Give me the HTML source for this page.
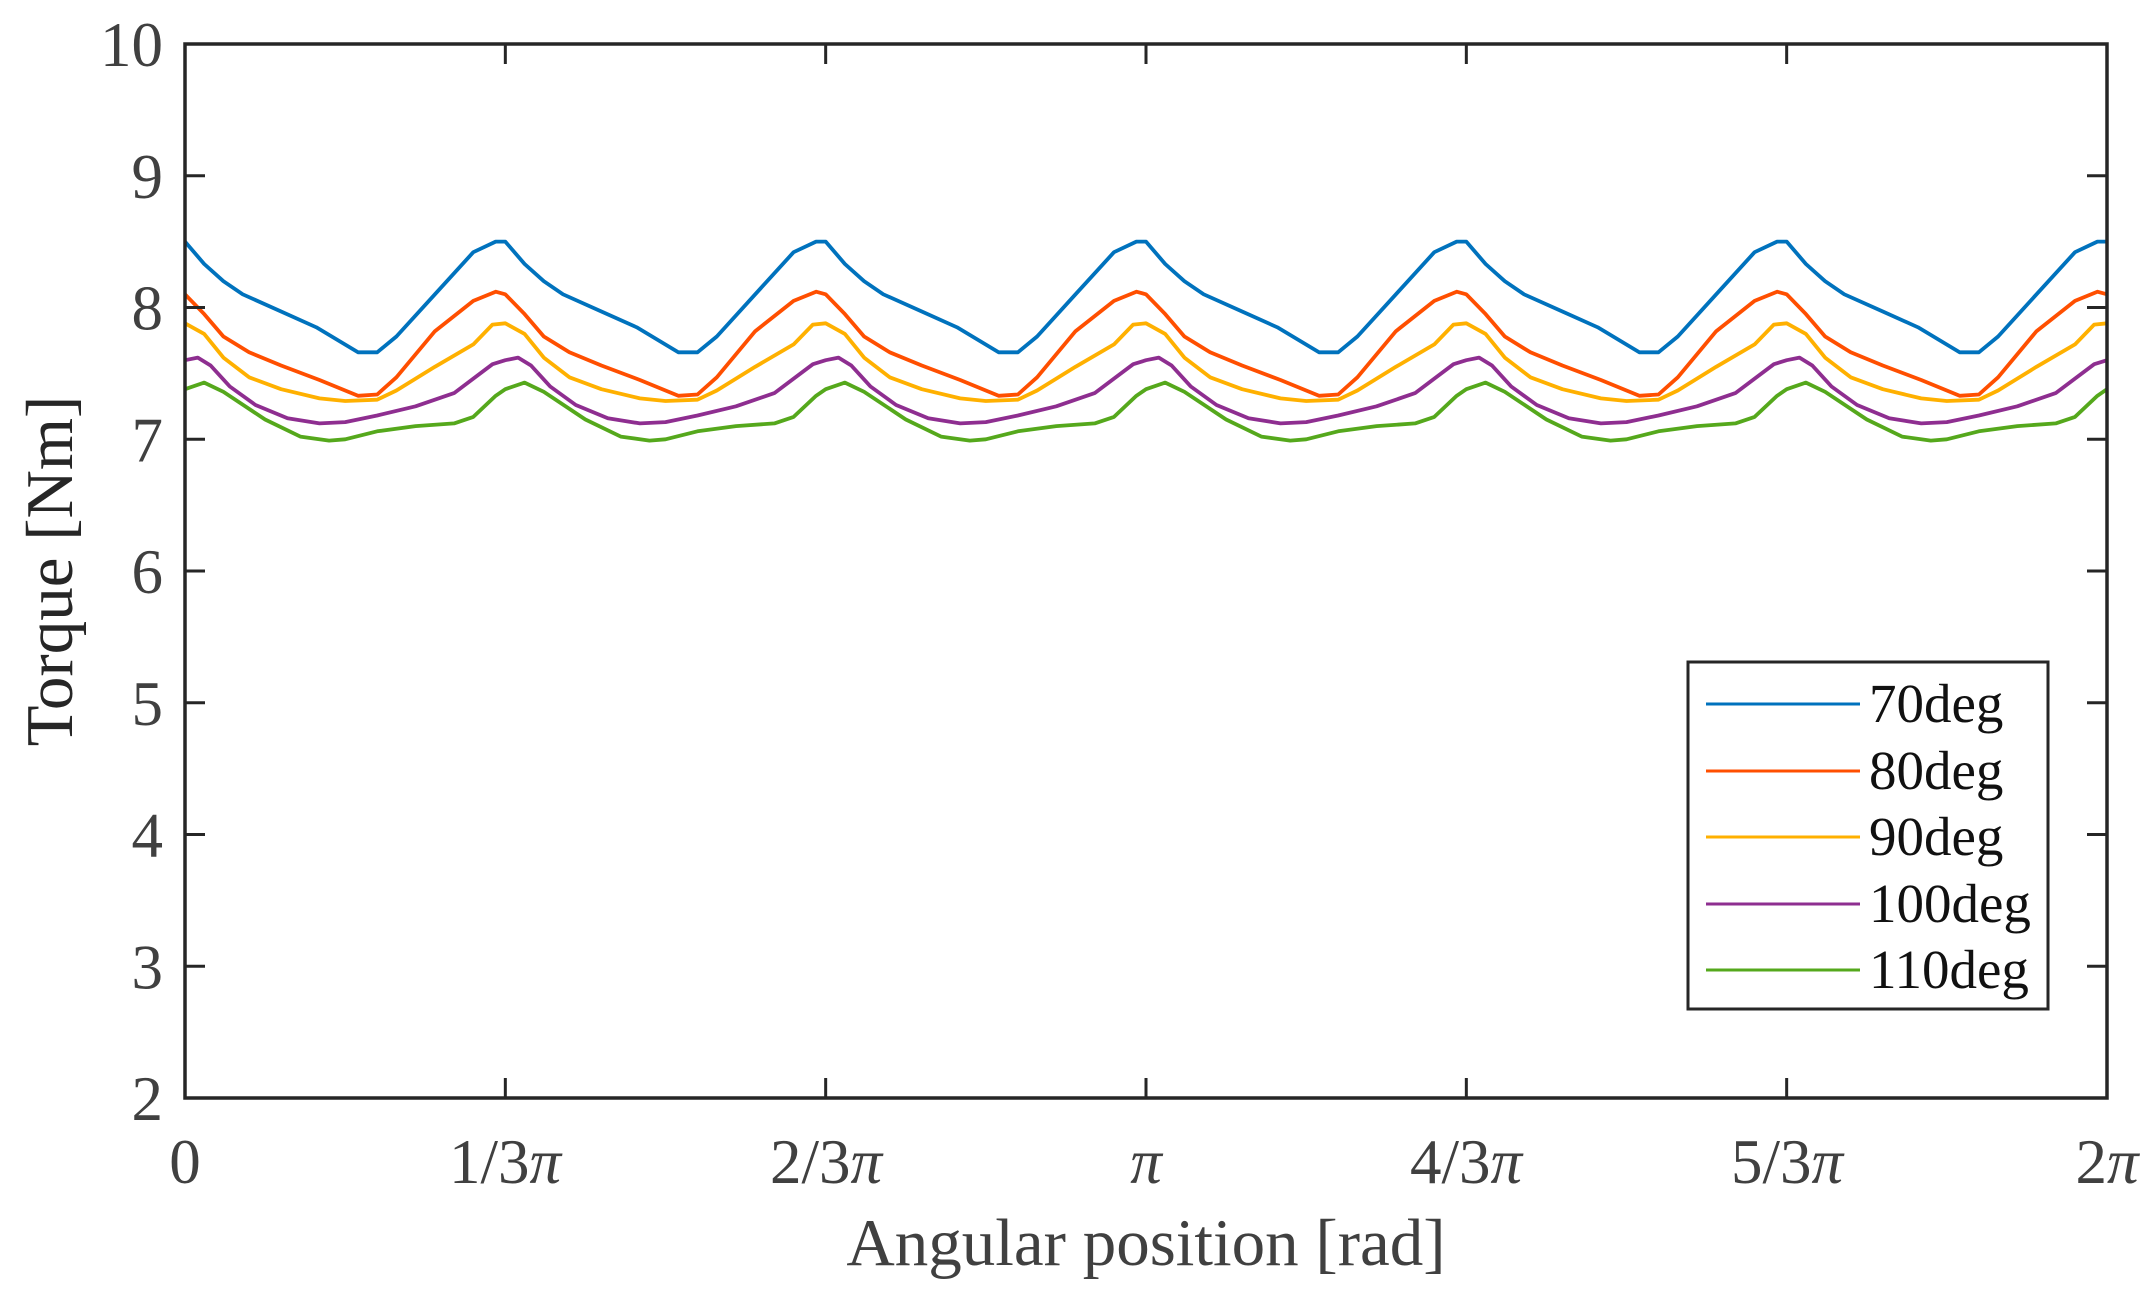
<!DOCTYPE html>
<html><head><meta charset="utf-8"><style>
html,body{margin:0;padding:0;background:#fff;}
svg{display:block;}
text{font-family:"Liberation Serif",serif;}
</style></head><body>
<svg id="s" width="2152" height="1303" viewBox="0 0 2152 1303" xmlns="http://www.w3.org/2000/svg">
<g id="series" fill="none" stroke-width="3.8" stroke-linejoin="round"></g>
<rect x="185" y="44" width="1922" height="1054" fill="none" stroke="#262626" stroke-width="3.5"/>
<g id="ticks" stroke="#262626" stroke-width="3"></g>
<g fill="#404040" font-size="63" text-anchor="middle">
<text x="185" y="1183">0</text>
<text x="505" y="1183">1/3<tspan font-style="italic">π</tspan></text>
<text x="826" y="1183">2/3<tspan font-style="italic">π</tspan></text>
<text x="1146" y="1183" font-style="italic">π</text>
<text x="1466" y="1183">4/3<tspan font-style="italic">π</tspan></text>
<text x="1787" y="1183">5/3<tspan font-style="italic">π</tspan></text>
<text x="2107" y="1183">2<tspan font-style="italic">π</tspan></text>
</g>
<g id="ylab" fill="#404040" font-size="63" text-anchor="end"></g>
<text x="1146" y="1265" font-size="67" fill="#404040" text-anchor="middle">Angular position [rad]</text>
<text transform="translate(72,571) rotate(-90)" font-size="67" fill="#262626" text-anchor="middle">Torque [Nm]</text>
<rect x="1688" y="662" width="360" height="347" fill="#fff" stroke="#262626" stroke-width="3"/>
<g stroke-width="3">
<line x1="1706" x2="1860" y1="704" y2="704" stroke="#0072BD"/>
<line x1="1706" x2="1860" y1="771" y2="771" stroke="#FF4F00"/>
<line x1="1706" x2="1860" y1="837" y2="837" stroke="#FFB000"/>
<line x1="1706" x2="1860" y1="904" y2="904" stroke="#8E2E90"/>
<line x1="1706" x2="1860" y1="970" y2="970" stroke="#55A81C"/>
</g>
<g font-size="55" fill="#111">
<text x="1869" y="722">70deg</text>
<text x="1869" y="789">80deg</text>
<text x="1869" y="855">90deg</text>
<text x="1869" y="922">100deg</text>
<text x="1869" y="988">110deg</text>
</g>
</svg>
<script>
var L=185,R=2107,T=44,B=1098;
function Y(v){return B-(v-2)*(B-T)/8;}
var ns="http://www.w3.org/2000/svg";
var tk=document.getElementById('ticks'),yl=document.getElementById('ylab');
for(var v=2;v<=10;v++){var y=Y(v);
 tk.innerHTML+='<line x1="'+L+'" x2="'+(L+20)+'" y1="'+y+'" y2="'+y+'"/><line x1="'+(R-20)+'" x2="'+R+'" y1="'+y+'" y2="'+y+'"/>';
 yl.innerHTML+='<text x="163" y="'+(y+22)+'">'+v+'</text>';}
for(var i=1;i<6;i++){var x=L+i*(R-L)/6;
 tk.innerHTML+='<line x1="'+x+'" x2="'+x+'" y1="'+B+'" y2="'+(B-20)+'"/><line x1="'+x+'" x2="'+x+'" y1="'+T+'" y2="'+(T+20)+'"/>';}
var S=[
["#0072BD",[[0,8.5],[0.06,8.33],[0.12,8.2],[0.18,8.1],[0.3,7.97],[0.41,7.85],[0.54,7.66],[0.6,7.66],[0.66,7.78],[0.78,8.1],[0.9,8.42],[0.97,8.5],[1,8.5]]],
["#FF4F00",[[0,8.1],[0.06,7.95],[0.12,7.78],[0.2,7.66],[0.3,7.56],[0.42,7.45],[0.54,7.33],[0.6,7.34],[0.66,7.47],[0.78,7.82],[0.9,8.05],[0.97,8.12],[1,8.1]]],
["#FFB000",[[0,7.88],[0.06,7.8],[0.12,7.62],[0.2,7.47],[0.3,7.38],[0.42,7.31],[0.5,7.29],[0.6,7.3],[0.66,7.37],[0.78,7.55],[0.9,7.72],[0.96,7.87],[1,7.88]]],
["#8E2E90",[[0,7.6],[0.04,7.62],[0.08,7.56],[0.14,7.4],[0.22,7.26],[0.32,7.16],[0.42,7.12],[0.5,7.13],[0.6,7.18],[0.72,7.25],[0.84,7.35],[0.96,7.57],[1,7.6]]],
["#55A81C",[[0,7.38],[0.06,7.43],[0.12,7.36],[0.25,7.15],[0.36,7.02],[0.45,6.99],[0.5,7.0],[0.6,7.06],[0.72,7.1],[0.84,7.12],[0.9,7.17],[0.97,7.33],[1,7.38]]]];
var g=document.getElementById('series'),P=(R-L)/6;
S.forEach(function(s){var pts=[];
 for(var k=0;k<6;k++){s[1].forEach(function(p,j){if(k>0&&j==0)return;pts.push((L+(k+p[0])*P).toFixed(1)+','+Y(p[1]).toFixed(1));});}
 var pl=document.createElementNS(ns,'polyline');pl.setAttribute('points',pts.join(' '));pl.setAttribute('stroke',s[0]);g.appendChild(pl);});
</script>
</body></html>
